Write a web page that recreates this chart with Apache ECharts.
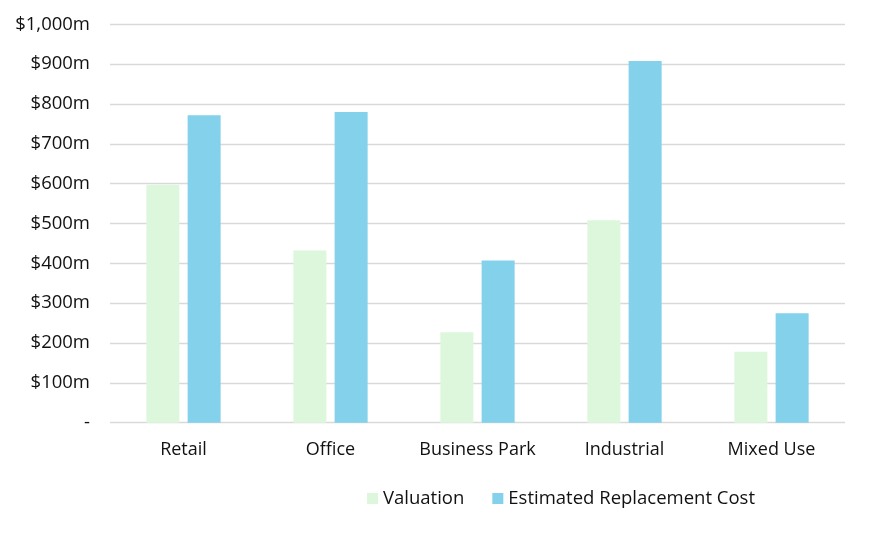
<!DOCTYPE html>
<html>
<head>
<meta charset="utf-8">
<script src="https://cdn.jsdelivr.net/npm/echarts@6/dist/echarts.min.js"></script>
<style>html,body{margin:0;padding:0;background:#fff;}#c{width:870px;height:539px;}</style>
</head>
<body>
<div id="c"></div>
<script>
const categories = ['Retail', 'Office', 'Business Park', 'Industrial', 'Mixed Use'];
const valuation = [597, 432, 227, 508, 178];
const replacementCost = [772, 780, 407, 908, 275];
const seriesNames = ['Valuation', 'Estimated Replacement Cost'];

const chart = echarts.init(document.getElementById('c'));
const font = '"Open Sans", "Noto Sans", sans-serif';
chart.setOption({
  animation: false,
  backgroundColor: '#fff',
  textStyle: { fontFamily: font },
  grid: { left: 110, right: 25, top: 24.3, bottom: 116.3, containLabel: false },
  legend: {
    data: seriesNames,
    left: 362,
    top: 484,
    itemWidth: 11,
    itemHeight: 11,
    itemGap: 28,
    icon: 'rect',
    textStyle: { fontFamily: font, fontSize: 18.5, color: '#111' }
  },
  xAxis: {
    type: 'category',
    data: categories,
    axisLine: { show: false },
    axisTick: { show: false },
    axisLabel: { fontFamily: font, fontSize: 18, color: '#111', margin: 18, interval: 0, hideOverlap: false }
  },
  yAxis: {
    type: 'value',
    min: 0, max: 1000, interval: 100,
    axisLine: { show: false },
    axisTick: { show: false },
    splitLine: { lineStyle: { color: '#d9d9d9', width: 1.3 } },
    axisLabel: {
      fontFamily: font, fontSize: 18.5, color: '#111', margin: 20,
      formatter: v => v === 0 ? '-' : '$' + v.toLocaleString('en-US') + 'm'
    }
  },
  series: [
    { name: seriesNames[0], type: 'bar', data: valuation, barWidth: 33, barGap: '25%',
      itemStyle: { color: '#dcf7db' } },
    { name: seriesNames[1], type: 'bar', data: replacementCost, barWidth: 33, barGap: '25%',
      itemStyle: { color: '#83d1ea' } }
  ]
});
</script>
</body>
</html>
